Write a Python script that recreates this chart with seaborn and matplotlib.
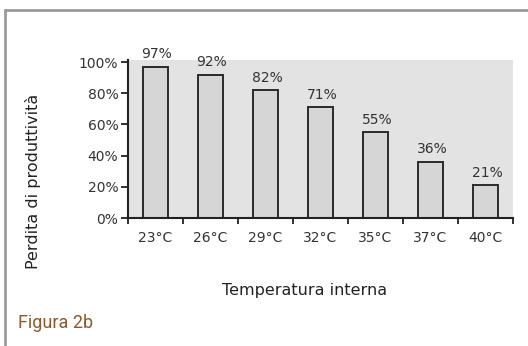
import matplotlib
matplotlib.use("Agg")
import matplotlib.pyplot as plt
from matplotlib.lines import Line2D
from matplotlib.ticker import FixedLocator
import seaborn as sns
import pandas as pd

# Data
temperature = ["23°C", "26°C", "29°C", "32°C", "35°C", "37°C", "40°C"]
produttivita = [97, 92, 82, 71, 55, 36, 21]
y_ticks = [0, 20, 40, 60, 80, 100]
y_tick_labels = ["0%", "20%", "40%", "60%", "80%", "100%"]

sns.set_style("white")
plt.rcParams["font.family"] = ["DejaVu Sans"]

df = pd.DataFrame({"Temperatura": temperature, "Perdita": produttivita})

fig = plt.figure(figsize=(5.28, 3.46), dpi=100)
fig.patch.set_facecolor("white")
ax = fig.add_axes([128 / 528, 1 - 218 / 346, (513 - 128) / 528, (218 - 60) / 346])
ax.set_facecolor("#e3e3e3")

sns.barplot(data=df, x="Temperatura", y="Perdita", ax=ax, width=0.47,
            color="#d6d6d6", edgecolor="#2a2a2a", linewidth=1.4, saturation=1)

ax.set_xlim(-0.5, len(temperature) - 0.5)
ax.set_ylim(0, 101.3)

# value labels above the bars
for i, v in enumerate(produttivita):
    ax.annotate(f"{v}%", (i, v), xytext=(1, 4), textcoords="offset points",
                ha="center", va="bottom", fontsize=10, color="#333333")

ax.set_yticks(y_ticks)
ax.set_yticklabels(y_tick_labels)
ax.tick_params(axis="y", length=5, width=1.3, color="#222222", pad=2,
               labelsize=10, labelcolor="#333333", left=True, direction="out")
ax.tick_params(axis="x", which="major", length=0, pad=9, labelsize=10,
               labelcolor="#333333")
# category boundaries as small downward ticks
ax.xaxis.set_minor_locator(FixedLocator([i - 0.5 for i in range(len(temperature) + 1)]))
ax.tick_params(axis="x", which="minor", length=4, width=1.3, color="#222222",
               bottom=True, direction="out")

for s in ["top", "right"]:
    ax.spines[s].set_visible(False)
for s in ["left", "bottom"]:
    ax.spines[s].set_color("#222222")
    ax.spines[s].set_linewidth(1.5)

ax.set_xlabel("")
ax.set_ylabel("")
fig.text(305 / 528, 1 - 291 / 346, "Temperatura interna", ha="center", va="center",
         fontsize=11.5, color="#222222")
fig.text(33 / 528, 1 - 181 / 346, "Perdita di produttività", ha="center", va="center",
         rotation=90, fontsize=11.5, color="#222222")

fig.text(18 / 528, 1 - 323 / 346, "Figura 2b", ha="left", va="center", fontsize=13,
         color="#8a5a2c", family=["Liberation Sans Narrow", "Roboto", "DejaVu Sans"])

# frame lines
fig.add_artist(Line2D([4.5 / 528, 1], [1 - 9.5 / 346, 1 - 9.5 / 346], transform=fig.transFigure,
                      color="#9a9a9a", linewidth=2))
fig.add_artist(Line2D([4.5 / 528, 4.5 / 528], [0, 1 - 9.5 / 346], transform=fig.transFigure,
                      color="#9a9a9a", linewidth=2))

fig.savefig("out.png", dpi=100, facecolor="white")
